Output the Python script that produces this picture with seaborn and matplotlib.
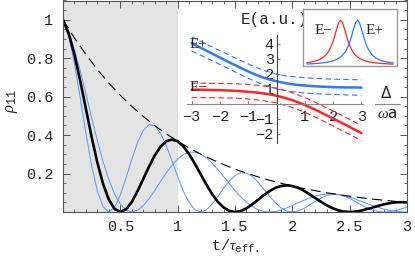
import matplotlib
matplotlib.use('Agg')
import matplotlib.pyplot as plt
import seaborn as sns
from matplotlib.ticker import MultipleLocator
from matplotlib.lines import Line2D

# main panel: occupation of level 1 versus scaled time
t = [0.00, 0.05, 0.10, 0.15, 0.20, 0.25, 0.30, 0.35, 0.40, 0.45,
     0.50, 0.55, 0.60, 0.65, 0.70, 0.75, 0.80, 0.85, 0.90, 0.95,
     1.00, 1.05, 1.10, 1.15, 1.20, 1.25, 1.30, 1.35, 1.40, 1.45,
     1.50, 1.55, 1.60, 1.65, 1.70, 1.75, 1.80, 1.85, 1.90, 1.95,
     2.00, 2.05, 2.10, 2.15, 2.20, 2.25, 2.30, 2.35, 2.40, 2.45,
     2.50, 2.55, 2.60, 2.65, 2.70, 2.75, 2.80, 2.85, 2.90, 2.95,
     3.00]
rho_black = [1.000, 0.928, 0.818, 0.683, 0.536, 0.389, 0.256, 0.145, 0.064, 0.016,
             0.000, 0.014, 0.052, 0.108, 0.172, 0.236, 0.294, 0.339, 0.368, 0.377,
             0.368, 0.341, 0.301, 0.251, 0.197, 0.143, 0.094, 0.053, 0.024, 0.006,
             0.000, 0.005, 0.019, 0.040, 0.063, 0.087, 0.108, 0.125, 0.135, 0.139,
             0.135, 0.126, 0.111, 0.092, 0.073, 0.053, 0.035, 0.020, 0.009, 0.002,
             0.000, 0.002, 0.007, 0.015, 0.023, 0.032, 0.040, 0.046, 0.050, 0.051,
             0.050]
rho_fast = [1.000, 0.915, 0.772, 0.595, 0.409, 0.240, 0.108, 0.027, 0.000, 0.024,
            0.089, 0.178, 0.274, 0.361, 0.424, 0.454, 0.449, 0.411, 0.347, 0.267,
            0.184, 0.108, 0.049, 0.012, 0.000, 0.011, 0.040, 0.080, 0.123, 0.162,
            0.190, 0.204, 0.202, 0.185, 0.156, 0.120, 0.083, 0.049, 0.022, 0.005,
            0.000, 0.005, 0.018, 0.036, 0.055, 0.073, 0.086, 0.092, 0.091, 0.083,
            0.070, 0.054, 0.037, 0.022, 0.010, 0.002, 0.000, 0.002, 0.008, 0.016,
            0.025]
rho_slow = [1.000, 0.935, 0.844, 0.735, 0.614, 0.490, 0.370, 0.261, 0.168, 0.093,
            0.041, 0.010, 0.000, 0.009, 0.033, 0.069, 0.112, 0.159, 0.203, 0.243,
            0.276, 0.299, 0.311, 0.311, 0.301, 0.282, 0.254, 0.221, 0.185, 0.148,
            0.112, 0.079, 0.050, 0.028, 0.012, 0.003, 0.000, 0.003, 0.010, 0.021,
            0.034, 0.048, 0.061, 0.073, 0.083, 0.090, 0.094, 0.094, 0.091, 0.085,
            0.077, 0.067, 0.056, 0.044, 0.034, 0.024, 0.015, 0.008, 0.004, 0.001,
            0.000]
t_env = [0.0, 0.1, 0.2, 0.3, 0.4, 0.5, 0.6, 0.7, 0.8, 0.9, 1.0, 1.1, 1.2, 1.3, 1.4, 1.5,
         1.6, 1.7, 1.8, 1.9, 2.0, 2.1, 2.2, 2.3, 2.4, 2.5, 2.6, 2.7, 2.8, 2.9, 3.0]
rho_env = [1.000, 0.905, 0.819, 0.741, 0.670, 0.607, 0.549, 0.497, 0.449, 0.407, 0.368,
           0.333, 0.301, 0.273, 0.247, 0.223, 0.202, 0.183, 0.165, 0.150, 0.135,
           0.122, 0.111, 0.100, 0.091, 0.082, 0.074, 0.067, 0.061, 0.055, 0.050]

# inset: energy levels versus detuning
delta = [-3.0, -2.75, -2.5, -2.25, -2.0, -1.75, -1.5, -1.25, -1.0, -0.75, -0.5, -0.25,
         0.0, 0.25, 0.5, 0.75, 1.0, 1.25, 1.5, 1.75, 2.0, 2.25, 2.5, 2.75, 3.0]
e_plus = [4.02, 3.78, 3.54, 3.30, 3.06, 2.82, 2.59, 2.36, 2.14, 1.93, 1.75, 1.60,
          1.48, 1.38, 1.30, 1.24, 1.20, 1.16, 1.13, 1.11, 1.09, 1.08, 1.07, 1.07, 1.06]
e_minus = [0.92, 0.92, 0.91, 0.90, 0.89, 0.87, 0.85, 0.82, 0.78, 0.74, 0.68, 0.61,
           0.52, 0.40, 0.26, 0.09, -0.10, -0.31, -0.53, -0.77, -1.00, -1.24, -1.48, -1.73, -1.97]
delta_d = [-3.0, -2.5, -2.0, -1.5, -1.0, -0.5, 0.0, 0.5, 1.0, 1.5, 2.0, 2.5, 3.0]
e_plus_hi = [4.45, 3.98, 3.52, 3.07, 2.64, 2.24, 1.95, 1.80, 1.72, 1.66, 1.62, 1.60, 1.58]
e_plus_lo = [3.50, 3.06, 2.60, 2.14, 1.68, 1.27, 0.98, 0.80, 0.70, 0.64, 0.60, 0.57, 0.55]
e_minus_hi = [1.36, 1.35, 1.34, 1.32, 1.27, 1.18, 1.02, 0.75, 0.40, -0.04, -0.50, -0.98, -1.46]
e_minus_lo = [0.40, 0.39, 0.38, 0.36, 0.30, 0.20, 0.04, -0.23, -0.58, -1.02, -1.50, -1.98, -2.46]

# small box: line shapes of the two levels
w = [0.04, 0.06, 0.08, 0.10, 0.12, 0.14, 0.16, 0.18, 0.20, 0.22, 0.24, 0.26, 0.28, 0.30,
     0.32, 0.34, 0.36, 0.38, 0.40, 0.42, 0.44, 0.46, 0.48, 0.50, 0.52, 0.54, 0.56, 0.58,
     0.60, 0.62, 0.64, 0.66, 0.68, 0.70, 0.72, 0.74, 0.76, 0.78, 0.80, 0.82, 0.84, 0.86,
     0.88, 0.90, 0.92, 0.94, 0.96]
line_minus = [0.053, 0.059, 0.066, 0.074, 0.084, 0.097, 0.111, 0.130, 0.153, 0.182, 0.220,
              0.269, 0.334, 0.419, 0.530, 0.668, 0.819, 0.948, 1.000, 0.948, 0.819, 0.668,
              0.530, 0.419, 0.334, 0.269, 0.220, 0.182, 0.153, 0.130, 0.111, 0.097, 0.084,
              0.074, 0.066, 0.059, 0.053, 0.048, 0.043, 0.039, 0.036, 0.033, 0.030, 0.028,
              0.026, 0.024, 0.023]
line_plus = [0.024, 0.026, 0.028, 0.030, 0.033, 0.036, 0.039, 0.043, 0.048, 0.053, 0.059,
             0.066, 0.074, 0.084, 0.097, 0.111, 0.130, 0.153, 0.182, 0.220, 0.269, 0.334,
             0.419, 0.530, 0.668, 0.819, 0.948, 1.000, 0.948, 0.819, 0.668, 0.530, 0.419,
             0.334, 0.269, 0.220, 0.182, 0.153, 0.130, 0.111, 0.097, 0.084, 0.074, 0.066,
             0.059, 0.053, 0.048]

sns.set_style('ticks')
plt.rcParams['font.family'] = ['Liberation Mono', 'DejaVu Sans']
plt.rcParams['mathtext.fontset'] = 'custom'
plt.rcParams['mathtext.rm'] = 'Liberation Mono'
plt.rcParams['mathtext.it'] = 'Liberation Serif:italic'
plt.rcParams['mathtext.bf'] = 'Liberation Mono:bold'

blue = '#5a95ff'
blue2 = '#2f78ff'
red = '#ff2626'
frame = '#555555'
serif = ['Liberation Serif', 'DejaVu Serif']

fig = plt.figure(figsize=(4.15, 2.57), dpi=100)
ax = fig.add_axes([63 / 415, 45 / 257, 344 / 415, 211.5 / 257])
ax.axvspan(0, 1, color='#e4e4e4', lw=0, zorder=0)
sns.lineplot(x=t, y=rho_fast, ax=ax, color=blue, linewidth=0.7)
sns.lineplot(x=t, y=rho_slow, ax=ax, color=blue, linewidth=0.7)
sns.lineplot(x=t_env, y=rho_env, ax=ax, color='black', linewidth=0.8, linestyle=(0, (9, 5)))
sns.lineplot(x=t, y=rho_black, ax=ax, color='black', linewidth=1.9)
ax.set_xlim(0, 3)
ax.set_ylim(0, 1.10)
ax.set_xticks([0.5, 1, 1.5, 2, 2.5, 3])
ax.set_xticklabels(['0.5', '1', '1.5', '2', '2.5', '3'])
ax.set_yticks([0.2, 0.4, 0.6, 0.8, 1])
ax.set_yticklabels(['0.2', '0.4', '0.6', '0.8', '1'])
ax.xaxis.set_minor_locator(MultipleLocator(0.1))
ax.yaxis.set_minor_locator(MultipleLocator(0.05))
ax.tick_params(which='both', direction='in', top=True, right=True, color=frame, labelsize=11)
ax.tick_params(which='major', length=5, width=0.7)
ax.tick_params(which='minor', length=2.5, width=0.6)
ax.tick_params(axis='x', pad=6)
ax.tick_params(axis='y', pad=7)
for s in ax.spines.values():
    s.set_color(frame)
    s.set_linewidth(0.8)
ax.set_xlabel('')
ax.set_ylabel('')
fig.text(235 / 415, 1 - 246 / 257, r't/$\tau_{\mathrm{eff.}}$', ha='center', va='center', fontsize=11)
fig.text(12 / 415, 1 - 101 / 257, r'$\rho_{11}$', ha='center', va='center', rotation=90, fontsize=12)

# inset with the two levels
ins = fig.add_axes([180 / 415, 1 - 150 / 257, 196 / 415, 135 / 257])
ins.set_facecolor('none')
sns.lineplot(x=delta_d, y=e_plus_hi, ax=ins, color=blue2, linewidth=0.8, linestyle=(0, (5, 3)))
sns.lineplot(x=delta_d, y=e_plus_lo, ax=ins, color=blue2, linewidth=0.8, linestyle=(0, (5, 3)))
sns.lineplot(x=delta_d, y=e_minus_hi, ax=ins, color=red, linewidth=0.8, linestyle=(0, (5, 3)))
sns.lineplot(x=delta_d, y=e_minus_lo, ax=ins, color=red, linewidth=0.8, linestyle=(0, (5, 3)))
sns.lineplot(x=delta, y=e_plus, ax=ins, color=blue2, linewidth=1.8)
sns.lineplot(x=delta, y=e_minus, ax=ins, color=red, linewidth=1.8)
ins.set_xlim(-3.41, 3.516)
ins.set_ylim(-3.1, 5.9)
ins.spines['top'].set_visible(False)
ins.spines['right'].set_visible(False)
ins.spines['left'].set_position(('data', 0))
ins.spines['bottom'].set_position(('data', 0))
ins.spines['left'].set_bounds(-2.63, 4.57)
ins.spines['bottom'].set_bounds(-3.17, 3.07)
ins.spines['left'].set_color('#444444')
ins.spines['bottom'].set_color('#888888')
ins.spines['left'].set_linewidth(0.8)
ins.spines['bottom'].set_linewidth(0.8)
ins.set_xticks([-3, -2, -1, 1, 2, 3])
ins.set_xticklabels(['\u22123', '\u22122', '\u22121', '1', '2', '3'])
ins.set_yticks([-2, -1, 1, 2, 3, 4])
ins.set_yticklabels(['\u22122', '\u22121', '1', '2', '3', '4'])
ins.tick_params(which='both', direction='in', length=2, width=0.6, color='#666666', labelsize=11)
ins.tick_params(axis='x', pad=5)
ins.tick_params(axis='y', pad=2)
ins.set_xlabel('')
ins.set_ylabel('')
ins.text(-0.09, 5.57, 'E(a.u.)', ha='center', va='center', fontsize=11.5)
ins.text(-3.08, 3.9, 'E+', ha='left', va='center', fontsize=11, family=serif)
ins.text(-3.08, 1.07, 'E\u2212', ha='left', va='center', fontsize=11, family=serif)

fig.text(386 / 415, 1 - 93 / 257, '\u0394', ha='center', va='center', fontsize=11, family='DejaVu Sans')
fig.text(387 / 415, 1 - 114 / 257, r'$\omega$a', ha='center', va='center', fontsize=11, family='DejaVu Sans')
fig.add_artist(Line2D([375 / 415, 400 / 415], [1 - 103.5 / 257, 1 - 103.5 / 257], color='#888888', lw=0.8))

# small box with the two line shapes
box = fig.add_axes([303 / 415, 1 - 66 / 257, 94 / 415, 57 / 257])
box.set_facecolor('white')
sns.lineplot(x=w, y=line_minus, ax=box, color=red, linewidth=0.9)
sns.lineplot(x=w, y=line_plus, ax=box, color=blue2, linewidth=0.9)
box.set_xlim(0, 1)
box.set_ylim(-0.02, 1.25)
box.set_xticks([])
box.set_yticks([])
box.set_xlabel('')
box.set_ylabel('')
for s in box.spines.values():
    s.set_color('#999999')
    s.set_linewidth(1.0)
box.text(0.22, 0.76, 'E\u2212', ha='center', va='center', fontsize=11, family=serif)
box.text(0.755, 0.76, 'E+', ha='center', va='center', fontsize=11, family=serif)

fig.savefig('out.png', dpi=100)
